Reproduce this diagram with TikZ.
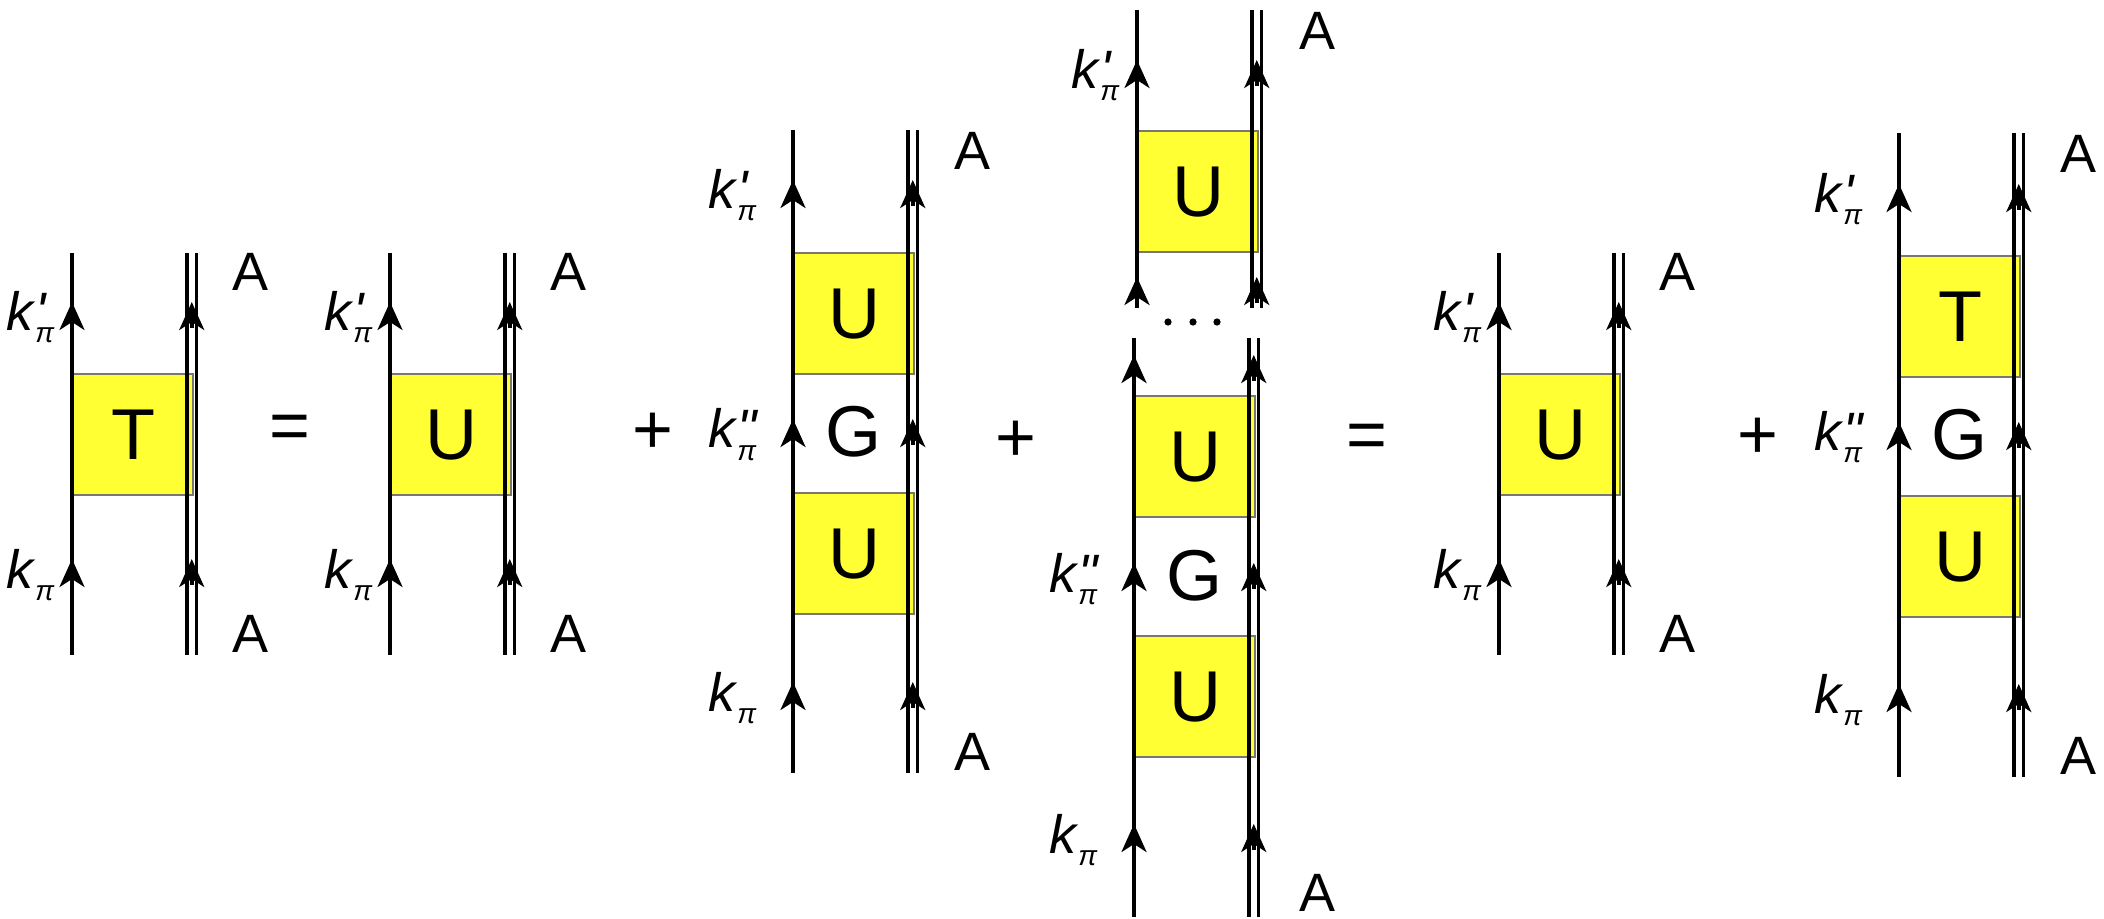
\documentclass[tikz,border=0pt]{standalone}
\usepackage{fontspec}
\setmainfont{Liberation Sans}
\usetikzlibrary{arrows.meta}
\definecolor{boxyellow}{RGB}{255,255,51}
\definecolor{boxedge}{RGB}{120,120,110}
\newcommand{\kl}[1]{\textit{k}\rlap{\textit{#1}}\raisebox{-6pt}{\fontsize{14pt}{14pt}\selectfont\textit{π}}}
\newcommand{\kP}{\kl{\textquotesingle}}
\newcommand{\kPP}{\kl{\textquotedbl}}
\newcommand{\kN}{\kl{}}
\newcommand{\legs}[3]{%
  \draw[fl] (#1,#2) -- (#1,#3);
  \draw[dl] (#1+115,#2) -- (#1+115,#3);
  \draw[dl] (#1+124.5,#2) -- (#1+124.5,#3);}
\newcommand{\arrs}[2]{%
  \draw[arr] (#1,#2+13) -- (#1,#2-13);
  \draw[arr] (#1+119.75,#2+13) -- (#1+119.75,#2-13);}
\tikzset{
  fl/.style={line width=1.8pt},
  dl/.style={line width=1.7pt},
  arr/.style={line width=1.8pt,-{Stealth[length=14pt,width=12.5pt,inset=4pt]}},
  ybox/.style={fill=boxyellow,draw=boxedge,line width=1.1pt,inner sep=0pt,
    minimum width=60pt,minimum height=60.5pt,anchor=north west,
    font=\fontsize{36pt}{36pt}\selectfont},
  lab/.style={inner sep=0pt,font=\fontsize{27pt}{27pt}\selectfont},
  big/.style={inner sep=0pt,font=\fontsize{36pt}{36pt}\selectfont},
  op/.style={inner sep=0pt,font=\fontsize{35pt}{35pt}\selectfont},
}
\begin{document}
\begin{tikzpicture}[x=0.5pt,y=-0.5pt]
\path[use as bounding box] (0,0) rectangle (2104,919);
% ---------- diagram 1 : T ----------
\node[ybox] (b1) at (72,373) {T};
\legs{72}{253}{655}
\arrs{72}{315}\arrs{72}{572}
\node[lab,anchor=base east] (k1a) at (55,331) {\kP};
\node[lab,anchor=base east] (k1b) at (55,588) {\kN};
\node[lab] (A1a) at (251,272) {A};
\node[lab] (A1b) at (251,634) {A};
\node[op] (eq1) at (290,432) {=};
% ---------- diagram 2 : U ----------
\node[ybox] (b2) at (390,373) {U};
\legs{390}{253}{655}
\arrs{390}{315}\arrs{390}{572}
\node[lab,anchor=base east] (k2a) at (373,331) {\kP};
\node[lab,anchor=base east] (k2b) at (373,588) {\kN};
\node[lab] (A2a) at (569,272) {A};
\node[lab] (A2b) at (569,634) {A};
\node[op] (pl1) at (653,433) {+};
% ---------- diagram 3 : U G U ----------
\node[ybox] (b3a) at (793,252) {U};
\node[ybox] (b3b) at (793,492) {U};
\legs{793}{130}{773}
\arrs{793}{193}\arrs{793}{432}\arrs{793}{695}
\node[big] (G3) at (853,432) {G};
\node[lab,anchor=base east] (k3a) at (757,209) {\kP};
\node[lab,anchor=base east] (k3b) at (757,448) {\kPP};
\node[lab,anchor=base east] (k3c) at (757,711) {\kN};
\node[lab] (A3a) at (972,151) {A};
\node[lab] (A3b) at (972,752) {A};
\node[op] (pl2) at (1016,441) {+};
% ---------- diagram 4 : U ... U G U ----------
\node[ybox] (b4a) at (1137,130) {U};
\legs{1137}{10}{308}
\arrs{1137}{73}\arrs{1137}{290}
\fill (1168,322) circle (1.8pt) (1193,322) circle (1.8pt) (1217,322) circle (1.8pt);
\node[ybox] (b4b) at (1134,395) {U};
\node[ybox] (b4c) at (1134,635) {U};
\legs{1134}{338}{917}
\arrs{1134}{368}\arrs{1134}{576}\arrs{1134}{837}
\node[big] (G4) at (1194,576) {G};
\node[lab,anchor=base east] (k4a) at (1120,89) {\kP};
\node[lab,anchor=base east] (k4b) at (1098,592) {\kPP};
\node[lab,anchor=base east] (k4c) at (1098,853) {\kN};
\node[lab] (A4a) at (1317,31) {A};
\node[lab] (A4b) at (1317,893) {A};
\node[op] (eq2) at (1367,441) {=};
% ---------- diagram 5 : U ----------
\node[ybox] (b5) at (1499,373) {U};
\legs{1499}{253}{655}
\arrs{1499}{315}\arrs{1499}{572}
\node[lab,anchor=base east] (k5a) at (1482,331) {\kP};
\node[lab,anchor=base east] (k5b) at (1482,588) {\kN};
\node[lab] (A5a) at (1677,272) {A};
\node[lab] (A5b) at (1677,634) {A};
\node[op] (pl3) at (1758,438) {+};
% ---------- diagram 6 : T G U ----------
\node[ybox] (b6a) at (1899,255) {T};
\node[ybox] (b6b) at (1899,495) {U};
\legs{1899}{133}{777}
\arrs{1899}{197}\arrs{1899}{435}\arrs{1899}{697}
\node[big] (G6) at (1959,435) {G};
\node[lab,anchor=base east] (k6a) at (1863,213) {\kP};
\node[lab,anchor=base east] (k6b) at (1863,451) {\kPP};
\node[lab,anchor=base east] (k6c) at (1863,713) {\kN};
\node[lab] (A6a) at (2078,154) {A};
\node[lab] (A6b) at (2078,756) {A};
\end{tikzpicture}
\end{document}
